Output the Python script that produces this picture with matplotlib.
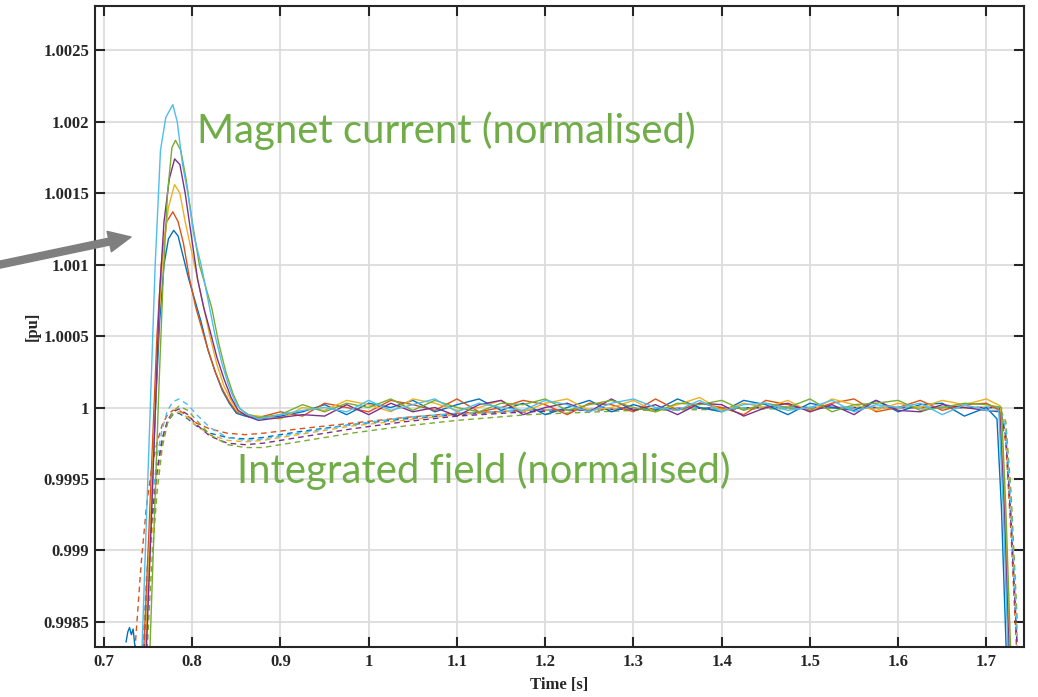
import numpy as np
import matplotlib
matplotlib.use("Agg")
import matplotlib.pyplot as plt

# MATLAB default colour order
colors = ["#0072BD", "#D95319", "#EDB120", "#7E2F8E", "#77AC30", "#4DBEEE"]

xticks = [0.7, 0.8, 0.9, 1.0, 1.1, 1.2, 1.3, 1.4, 1.5, 1.6, 1.7]
xticklabels = ["0.7", "0.8", "0.9", "1", "1.1", "1.2", "1.3", "1.4", "1.5", "1.6", "1.7"]
yticks = [0.9985, 0.999, 0.9995, 1.0, 1.0005, 1.001, 1.0015, 1.002, 1.0025]
yticklabels = ["0.9985", "0.999", "0.9995", "1", "1.0005", "1.001", "1.0015", "1.002", "1.0025"]

# ---- magnet current (solid): rise / peak / decay ----
cur_rise_t = [
    [0.725, 0.727, 0.729, 0.731, 0.733, 0.735, 0.737, 0.744, 0.748, 0.753, 0.758, 0.763, 0.768, 0.773,
     0.779, 0.784, 0.790, 0.796, 0.803, 0.810, 0.818, 0.826, 0.834, 0.842, 0.850, 0.860],
    [0.745, 0.750, 0.755, 0.760, 0.765, 0.771, 0.778, 0.784, 0.790, 0.797, 0.804, 0.811, 0.818, 0.826,
     0.834, 0.842, 0.850, 0.860],
    [0.747, 0.752, 0.757, 0.762, 0.767, 0.773, 0.780, 0.786, 0.792, 0.799, 0.806, 0.813, 0.820, 0.828,
     0.836, 0.844, 0.852, 0.862],
    [0.748, 0.753, 0.758, 0.763, 0.768, 0.774, 0.780, 0.786, 0.792, 0.799, 0.806, 0.813, 0.820, 0.828,
     0.836, 0.844, 0.852, 0.862],
    [0.752, 0.757, 0.762, 0.767, 0.772, 0.777, 0.781, 0.787, 0.793, 0.800, 0.808, 0.815, 0.822, 0.830,
     0.838, 0.846, 0.854, 0.864],
    [0.743, 0.748, 0.753, 0.758, 0.764, 0.770, 0.778, 0.783, 0.789, 0.795, 0.802, 0.810, 0.818, 0.826,
     0.834, 0.842, 0.850, 0.860],
]
cur_rise_v = [
    [0.99836, 0.99843, 0.99846, 0.99841, 0.99845, 0.99833, 0.9981, 0.9981, 0.9984, 0.9992, 0.99995, 1.0006,
     1.0010, 1.00118, 1.00124, 1.0012, 1.00105, 1.0009, 1.00075, 1.0006, 1.0004, 1.00025, 1.00012,
     1.00003, 0.99996, 0.99994],
    [0.9983, 0.9990, 0.99975, 1.0005, 1.0010, 1.0013, 1.00137, 1.0013, 1.00115, 1.0009, 1.0007, 1.00055,
     1.0004, 1.00025, 1.00013, 1.00004, 0.99997, 0.99995],
    [0.9983, 0.9991, 0.99985, 1.0006, 1.0011, 1.0014, 1.00156, 1.0015, 1.0013, 1.0011, 1.0009, 1.0007,
     1.0005, 1.0003, 1.00015, 1.00005, 0.99997, 0.99995],
    [0.9983, 0.9991, 0.99995, 1.0008, 1.0013, 1.0016, 1.00174, 1.0017, 1.0015, 1.0012, 1.0009, 1.0007,
     1.00054, 1.00035, 1.0002, 1.00007, 0.99998, 0.99994],
    [0.9983, 0.9992, 1.0001, 1.0009, 1.0015, 1.00182, 1.00187, 1.0018, 1.0016, 1.0013, 1.0010, 1.00085,
     1.0007, 1.00045, 1.00025, 1.0001, 0.99999, 0.99995],
    [0.9983, 0.9992, 1.0001, 1.0010, 1.0018, 1.00203, 1.00212, 1.0020, 1.0017, 1.0015, 1.0012, 1.0010,
     1.00075, 1.0005, 1.0003, 1.00014, 1.00002, 0.99996],
]

# flat top, deviation from 1 in units of 1e-5 (noise band)
plateau_t = [0.875, 0.9, 0.925, 0.95, 0.975, 1.0, 1.025, 1.05, 1.075, 1.1, 1.125, 1.15, 1.175, 1.2,
             1.225, 1.25, 1.275, 1.3, 1.325, 1.35, 1.375, 1.4, 1.425, 1.45, 1.475, 1.5, 1.525, 1.55,
             1.575, 1.6, 1.625, 1.65, 1.675, 1.7]
plateau_dev = [
    [-8, -6, -3, 2, -5, 3, 0, 5, -3, 2, 6, -2, 3, -5, 0, 5, -3, 2, -2, 6, 0, -3, 5, 2, -5, 3, 0, -2, 5, -3, 2, 3, -6, 0],
    [-7, -3, -6, 3, 0, -3, 5, 2, -2, 6, -3, 0, 5, 2, -5, 3, 2, -3, 6, -2, 3, 0, -5, 5, 2, -2, 3, 6, -3, 0, 5, -2, 2, 3],
    [-6, -8, 0, -2, 5, 2, -3, 6, 3, -2, 0, 5, -3, 3, 6, -2, 0, 5, -3, 2, 7, -2, 3, 0, 5, -3, 6, 2, -2, 3, 0, 5, 2, 6],
    [-9, -7, -5, -6, 2, -5, 3, -3, 0, -6, 2, 5, -5, 0, 3, -3, 6, -2, 2, -5, 3, 2, -6, 0, 3, -3, 2, -5, 5, -2, -3, 2, 0, -2],
    [-7, -5, 2, -3, 3, 0, 6, -2, 5, 0, -3, 3, 2, 6, -2, 2, 5, 0, -3, 3, 2, 5, -2, 3, 0, 6, -3, 2, 3, 5, -2, 0, 3, 2],
    [-8, -5, -2, 0, -3, 5, -2, 2, 6, -3, 3, 0, -2, 5, 2, -3, 3, 6, 0, -2, 5, -3, 2, 3, -2, 0, 5, -3, 2, 0, 3, -5, 2, -2],
]

# ramp down at the end
cur_drop_t = [
    [1.712, 1.717, 1.723],
    [1.715, 1.720, 1.726],
    [1.716, 1.721, 1.727],
    [1.715, 1.720, 1.726],
    [1.717, 1.722, 1.728],
    [1.714, 1.719, 1.725],
]
cur_drop_v = [
    [0.99992, 0.9993, 0.9982],
    [0.99998, 0.9993, 0.9982],
    [1.00001, 0.9993, 0.9982],
    [0.99997, 0.9993, 0.9982],
    [1.0, 0.9993, 0.9982],
    [0.99998, 0.9993, 0.9982],
]

# ---- integrated field (dashed) ----
field_t = [0.735, 0.742, 0.748, 0.754, 0.760, 0.766, 0.772, 0.778, 0.785, 0.795, 0.805, 0.82, 0.84,
           0.86, 0.88, 0.92, 0.98, 1.04, 1.10, 1.18, 1.30, 1.45, 1.60, 1.715, 1.722, 1.728, 1.735]
field_v = [
    [0.9970, 0.9979, 0.9986, 0.9992, 0.99955, 0.99978, 0.9999, 0.99995, 0.99996, 0.99992, 0.99987,
     0.99982, 0.99979, 0.99978, 0.99979, 0.99983, 0.99988, 0.99992, 0.99995, 0.99998, 0.99999, 1.0,
     1.0, 1.0, 0.9998, 0.9992, 0.9983],
    [0.9983, 0.9989, 0.9993, 0.99958, 0.99975, 0.99988, 0.99995, 0.99998, 0.99998, 0.99994, 0.99989,
     0.99985, 0.99982, 0.99981, 0.99982, 0.99985, 0.99989, 0.99993, 0.99996, 0.99998, 0.99999, 1.0,
     1.0, 1.0, 0.99975, 0.9991, 0.9982],
    [0.9968, 0.9978, 0.9985, 0.9991, 0.9995, 0.99976, 0.9999, 0.99996, 0.99997, 0.99993, 0.99987,
     0.99981, 0.99977, 0.99976, 0.99977, 0.99981, 0.99987, 0.99991, 0.99995, 0.99998, 0.99999, 1.0,
     1.0, 1.0, 0.99985, 0.9993, 0.9984],
    [0.9970, 0.9979, 0.9986, 0.9992, 0.99955, 0.99978, 0.99991, 0.99997, 0.99999, 0.99995, 0.99988,
     0.9998, 0.99975, 0.99974, 0.99975, 0.99979, 0.99985, 0.9999, 0.99994, 0.99997, 0.99999, 1.0,
     1.0, 1.0, 0.9998, 0.9992, 0.9983],
    [0.9962, 0.9974, 0.9982, 0.9989, 0.9994, 0.99972, 0.99989, 0.99997, 1.00001, 0.99998, 0.99991,
     0.99981, 0.99974, 0.99972, 0.99972, 0.99976, 0.99982, 0.99987, 0.99991, 0.99995, 0.99998, 0.99999,
     1.0, 1.0, 0.9999, 0.9994, 0.9985],
    [0.9972, 0.9981, 0.9988, 0.9993, 0.99965, 0.99985, 0.99998, 1.00004, 1.00006, 1.00002, 0.99995,
     0.99986, 0.99979, 0.99977, 0.99978, 0.99982, 0.99988, 0.99993, 0.99996, 0.99998, 0.99999, 1.0,
     1.0, 1.0, 0.99985, 0.9993, 0.9984],
]

plt.rcParams["font.family"] = ["Liberation Serif", "DejaVu Serif"]

fig = plt.figure(figsize=(10.38, 6.97), dpi=100)
ax = fig.add_axes([95 / 1038, 50 / 697, 929 / 1038, 641 / 697])

for i, c in enumerate(colors):
    ax.plot(field_t, field_v[i], color=c, lw=1.0, ls=(0, (4, 3)))

for i, c in enumerate(colors):
    t = cur_rise_t[i] + plateau_t + cur_drop_t[i]
    v = cur_rise_v[i] + [1 + d * 1e-5 for d in plateau_dev[i]] + cur_drop_v[i]
    ax.plot(t, v, color=c, lw=1.0)

ax.set_xlim(0.6898, 1.7426)
ax.set_ylim(0.998324, 1.00281)
ax.set_xticks(xticks)
ax.set_xticklabels(xticklabels)
ax.set_yticks(yticks)
ax.set_yticklabels(yticklabels)
ax.grid(True, color="#dcdcdc", lw=1.3)
ax.set_axisbelow(True)
ax.tick_params(direction="in", length=7, width=1.5, top=True, right=True, pad=4,
               labelsize=12, colors="#262626")
ax.tick_params(axis="x", pad=5)
for lab in ax.get_xticklabels() + ax.get_yticklabels():
    lab.set_fontweight("bold")
for s in ax.spines.values():
    s.set_linewidth(1.5)
    s.set_color("#262626")

ax.set_xlabel("Time [s]", fontsize=12, fontweight="bold", color="#262626", labelpad=5)
ax.set_ylabel("[pu]", fontsize=12, fontweight="bold", color="#262626", labelpad=2)

green = "#70AD47"
fig.text(197 / 1038, (697 - 143) / 697, "Magnet current (normalised)", color=green,
         fontsize=28.8, family="Lato", ha="left", va="baseline")
fig.text(237 / 1038, (697 - 483) / 697, "Integrated field (normalised)", color=green,
         fontsize=28.8, family="Lato", ha="left", va="baseline")

ax.annotate("", xy=(131, 697 - 237), xycoords="figure pixels",
            xytext=(-2, 697 - 265), textcoords="figure pixels",
            arrowprops=dict(arrowstyle="simple,head_width=1.5,head_length=1.6,tail_width=0.5",
                            color="#7F7F7F", shrinkA=0, shrinkB=0),
            annotation_clip=False)

fig.savefig("out.png", dpi=100)
